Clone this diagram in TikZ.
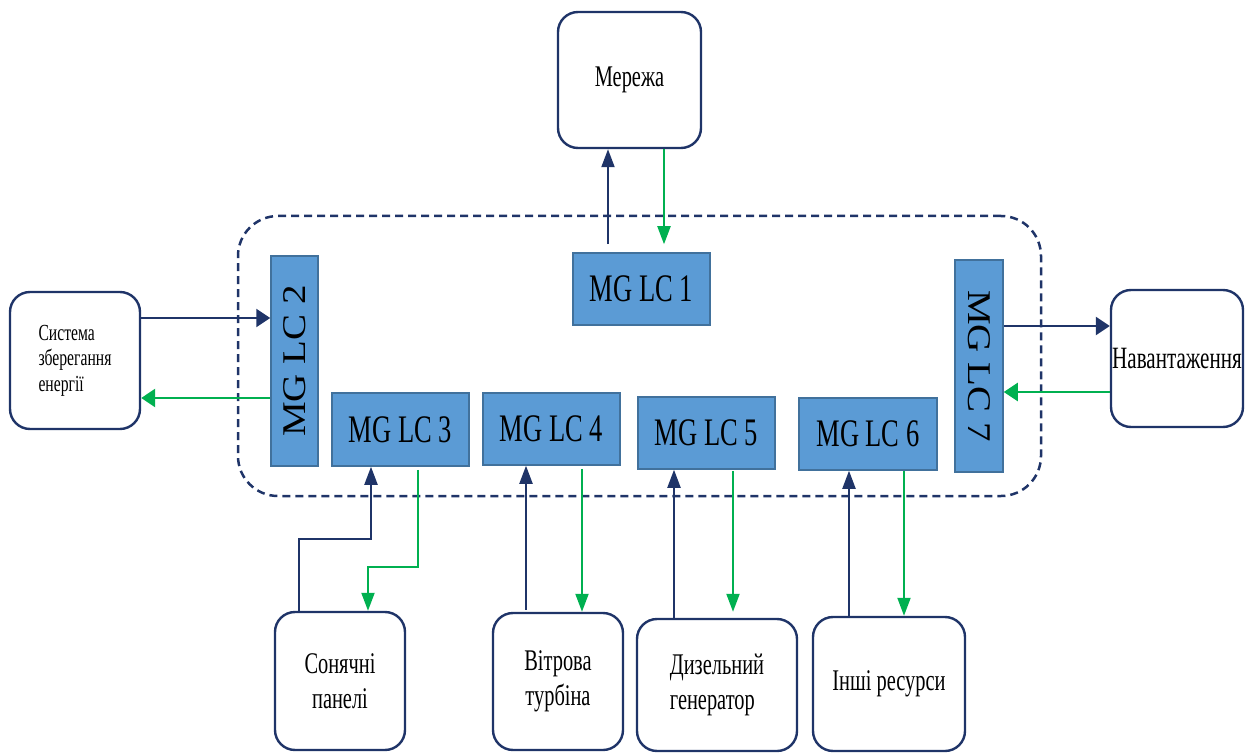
\documentclass[tikz,border=0pt]{standalone}
\usepackage{fontspec}
\usepackage{graphicx}
\setmainfont{Liberation Serif}
\newfontfamily\condfont[FakeStretch=0.68]{Liberation Serif}
\usetikzlibrary{arrows.meta,calc}
\definecolor{navy}{HTML}{1F3468}
\definecolor{flowgreen}{HTML}{00B050}
\definecolor{lcfill}{HTML}{5B9BD5}
\definecolor{lcedge}{HTML}{41719C}

\begin{document}
\begin{tikzpicture}[x=1pt,y=-1pt,
  unit/.style={draw=navy, line width=2.4pt, rounded corners=20pt, fill=white,
    align=center, inner sep=0pt, font=\condfont\fontsize{30}{35}\selectfont},
  ctrl/.style={draw=lcedge, line width=1.5pt, fill=lcfill, inner sep=0pt,
    font=\condfont\fontsize{39}{39}\selectfont},
  boundary/.style={draw=navy, line width=2.5pt, dash pattern=on 8pt off 5pt,
    rounded corners=40pt},
  vnavy/.style={draw=navy, line width=2pt, -{Triangle[length=18pt,width=13pt]}},
  vgreen/.style={draw=flowgreen, line width=2pt, -{Triangle[length=18pt,width=13pt]}},
  hnavy/.style={draw=navy, line width=2.5pt, -{Triangle[length=14pt,width=18pt]}},
  hgreen/.style={draw=flowgreen, line width=2.5pt, -{Triangle[length=14pt,width=18pt]}},
]
\useasboundingbox (0,0) rectangle (1253,754);

% microgrid boundary
\node[boundary, minimum width=803pt, minimum height=280pt] (mg) at (639.5,356) {};

% external units
\node[unit, minimum width=143pt, minimum height=136pt] (grid) at (629.5,80) {Мережа};
\node[unit, minimum width=130pt, minimum height=137pt, align=left,
      font=\condfont\fontsize{23}{25.5}\selectfont] (storage) at (75,360.5)
      {Система\\зберегання\\енергії};
\node[unit, minimum width=132pt, minimum height=137pt,
      font=\condfont\fontsize{31}{35}\selectfont] (load) at (1177,358.5) {Навантаження};
\node[unit, minimum width=130pt, minimum height=138pt] (solar) at (340,681) {Сонячні\\панелі};
\node[unit, minimum width=130pt, minimum height=137pt] (wind) at (558,681.5) {Вітрова\\турбіна};
\node[unit, minimum width=160pt, minimum height=132pt, align=left] (diesel) at (717,685) {Дизельний\\генератор};
\node[unit, minimum width=152pt, minimum height=134pt] (other) at (889,684) {Інші ресурси};

% local controllers
\node[ctrl, minimum width=137pt, minimum height=72pt] (lc1) at (641.5,289) {MG LC 1};
\node[ctrl, minimum width=47pt, minimum height=210pt] (lc2) at (294.5,361)
  {\scalebox{0.85}[1]{\rotatebox{90}{\rmfamily\fontsize{39}{39}\selectfont MG LC 2}}};
\node[ctrl, minimum width=137pt, minimum height=73pt] (lc3) at (400.5,429.5) {MG LC 3};
\node[ctrl, minimum width=137pt, minimum height=72pt] (lc4) at (551.5,429) {MG LC 4};
\node[ctrl, minimum width=137pt, minimum height=72pt] (lc5) at (706.5,433) {MG LC 5};
\node[ctrl, minimum width=138pt, minimum height=72pt] (lc6) at (868,434) {MG LC 6};
\node[ctrl, minimum width=48pt, minimum height=212pt] (lc7) at (979,366)
  {\scalebox{0.85}[1]{\rotatebox{-90}{\rmfamily\fontsize{39}{39}\selectfont MG LC 7}}};

% connector columns and rows
\coordinate (xa) at (608,0);
\coordinate (xb) at (664,0);
\coordinate (ys1) at (0,318);
\coordinate (ys2) at (0,398);
\coordinate (yl1) at (0,326);
\coordinate (yl2) at (0,392);
\coordinate (sa) at (299,539);
\coordinate (sb) at (371,539);
\coordinate (ga) at (418,567);
\coordinate (gb) at (368,567);
\coordinate (wa) at (526,0);
\coordinate (wb) at (582,0);
\coordinate (da) at (674,0);
\coordinate (db) at (733,0);
\coordinate (oa) at (849,0);
\coordinate (ob) at (904,0);

% grid
\draw[vnavy] ($(lc1.north -| xa)+(0,-8)$) -- (grid.south -| xa);
\draw[vgreen] (grid.south -| xb) -- ($(lc1.north -| xb)+(0,-8)$);
% storage
\draw[hnavy] (storage.east |- ys1) -- (lc2.west |- ys1);
\draw[hgreen] (lc2.west |- ys2) -- (storage.east |- ys2);
% load
\draw[hnavy] (lc7.east |- yl1) -- (load.west |- yl1);
\draw[hgreen] (load.west |- yl2) -- (lc7.east |- yl2);
% solar panels
\draw[vnavy] (solar.north -| sa) -- (sa) -- (sb) -- (lc3.south -| sb);
\draw[vgreen] ($(lc3.south -| ga)+(0,3)$) -- (ga) -- (gb) -- (solar.north -| gb);
% wind turbine
\draw[vnavy] ($(wind.north -| wa)+(0,-2)$) -- (lc4.south -| wa);
\draw[vgreen] ($(lc4.south -| wb)+(0,3)$) -- (wind.north -| wb);
% diesel generator
\draw[vnavy] (diesel.north -| da) -- (lc5.south -| da);
\draw[vgreen] ($(lc5.south -| db)+(0,1)$) -- ($(diesel.north -| db)+(0,-6)$);
% other resources
\draw[vnavy] (other.north -| oa) -- (lc6.south -| oa);
\draw[vgreen] (lc6.south -| ob) -- (other.north -| ob);
\end{tikzpicture}
\end{document}
